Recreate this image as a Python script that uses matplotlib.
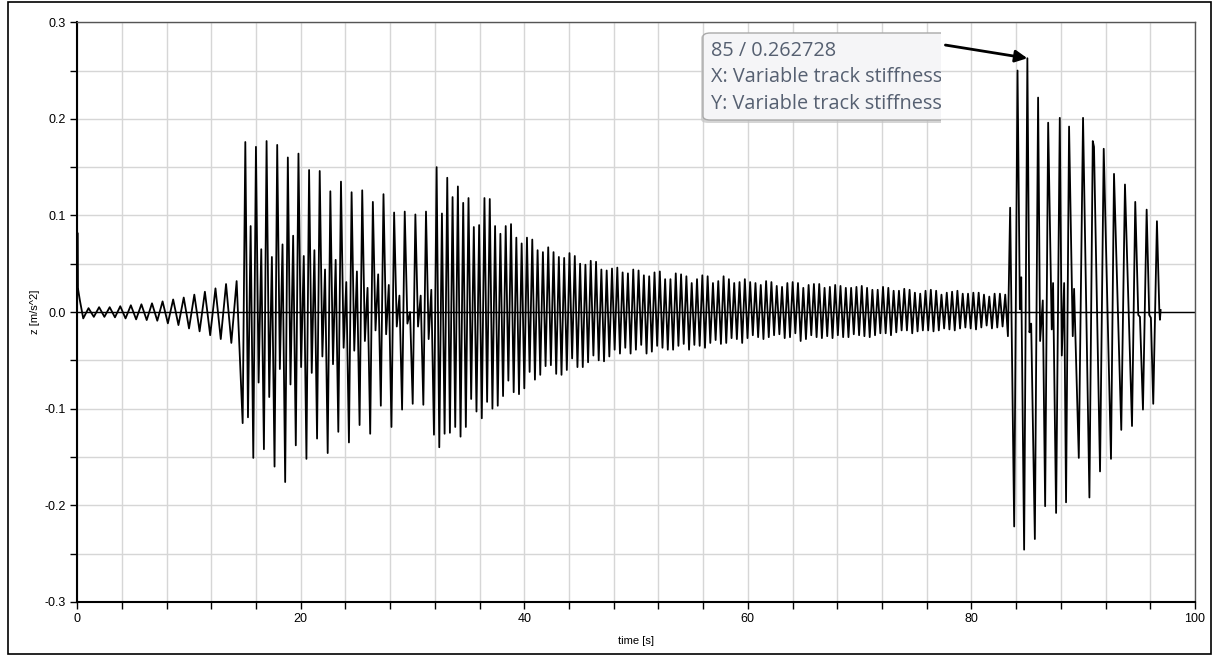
# Aceleração vertical z ao longo do tempo - rigidez variável da via

import numpy as np
import matplotlib.pyplot as plt
from matplotlib.patches import FancyBboxPatch, Rectangle
from matplotlib.transforms import Bbox

# pico inicial
t_inicio = [0.0, 0.03, 0.07, 0.25]
z_inicio = [0.0, 0.082, 0.025, 0.012]

# oscilação pequena crescente (vale, pico, vale, pico, ...) de 0.55 s a 14.27 s
z_oscil = [-0.0066, 0.004, -0.005, 0.005, -0.005, 0.005, -0.0055, 0.006,
           -0.0066, 0.007, -0.0076, 0.008, -0.0083, 0.009, -0.009, 0.011,
           -0.0117, 0.013, -0.0135, 0.015, -0.017, 0.018, -0.020, 0.021,
           -0.024, 0.0245, -0.028, 0.029, -0.032, 0.032]
t_oscil = (0.55, 14.27)

# primeira rajada (15 s a 32 s)
z_rajada = [-0.115, 0.176, -0.109, 0.089, -0.151, 0.171, -0.073, 0.065,
            -0.142, 0.177, -0.088, 0.057, -0.160, 0.173, -0.059, 0.070,
            -0.176, 0.160, -0.075, 0.079, -0.138, 0.164, -0.057, 0.058,
            -0.152, 0.147, -0.063, 0.064, -0.131, 0.146, -0.046, 0.044,
            -0.146, 0.125, -0.054, 0.054, -0.124, 0.135, -0.037, 0.031,
            -0.135, 0.124, -0.040, 0.042, -0.117, 0.126, -0.030, 0.025,
            -0.126, 0.114, -0.019, 0.039, -0.097, 0.122, -0.023, 0.028,
            -0.119, 0.103, -0.015, 0.017, -0.101, 0.104, -0.012, 0.000,
            -0.095, 0.101, -0.015, 0.017, -0.096, 0.104, -0.028, 0.023,
            -0.127]

# decaimento (32 s a 83 s): picos e vales de cada ciclo
picos_decai = [0.150, 0.102, 0.139, 0.119, 0.130, 0.113, 0.118, 0.088, 0.090,
               0.118, 0.117, 0.089, 0.081, 0.089, 0.091, 0.077, 0.071, 0.077,
               0.075, 0.064, 0.062, 0.067, 0.062, 0.057, 0.056, 0.061, 0.058,
               0.050, 0.049, 0.053, 0.052, 0.044, 0.043, 0.045, 0.046,
               0.041, 0.040, 0.044, 0.043, 0.038, 0.037, 0.041, 0.042, 0.034,
               0.034, 0.040, 0.039, 0.037, 0.030, 0.034, 0.038, 0.037, 0.030,
               0.032, 0.037, 0.034, 0.030, 0.031, 0.034, 0.031, 0.030, 0.028,
               0.032, 0.031, 0.027, 0.026, 0.030, 0.031, 0.030,
               0.025, 0.028, 0.029, 0.029, 0.025, 0.026, 0.028, 0.027, 0.025,
               0.025, 0.026, 0.027, 0.025, 0.023, 0.023, 0.026, 0.025, 0.022,
               0.022, 0.024, 0.023, 0.020, 0.019, 0.022, 0.023, 0.022, 0.018,
               0.020, 0.021, 0.022, 0.019, 0.019, 0.020, 0.020, 0.018, 0.016,
               0.019, 0.019, 0.018]
vales_decai = [-0.140, -0.126, -0.125, -0.119, -0.129, -0.119, -0.090, -0.103,
               -0.110, -0.093, -0.100, -0.097, -0.087, -0.071, -0.083, -0.085,
               -0.079, -0.062, -0.070, -0.065, -0.056, -0.055, -0.064, -0.065,
               -0.060, -0.048, -0.057, -0.057, -0.052, -0.045, -0.050, -0.051,
               -0.046, -0.039, -0.043,
               -0.037, -0.043, -0.039, -0.034, -0.043, -0.041, -0.035, -0.037,
               -0.039, -0.039, -0.035, -0.033, -0.039, -0.034, -0.035, -0.037,
               -0.032, -0.029, -0.033, -0.032, -0.027, -0.028, -0.032, -0.027,
               -0.024, -0.026, -0.028, -0.026, -0.024, -0.023, -0.027, -0.026,
               -0.022, -0.030,
               -0.028, -0.024, -0.026, -0.027, -0.025, -0.027, -0.024, -0.026,
               -0.026, -0.023, -0.024, -0.025, -0.026, -0.024, -0.022, -0.022,
               -0.024, -0.021, -0.019, -0.019, -0.022, -0.020, -0.019, -0.019,
               -0.020, -0.019, -0.017, -0.018, -0.019, -0.017, -0.016, -0.017,
               -0.018, -0.016, -0.014, -0.017, -0.016, -0.015]
t_rajada_decai = (14.81, 83.02)

# segunda rajada (83 s a 97 s)
t_final = [83.26, 83.46, 83.82, 84.12, 84.33, 84.45, 84.71, 85.0, 85.19,
           85.34, 85.67, 85.96, 86.14, 86.38, 86.59, 86.86, 87.18, 87.30,
           87.57, 87.90, 88.08, 88.29, 88.46, 88.73, 89.06, 89.18, 89.60,
           89.98, 90.55, 90.85, 90.96, 91.50, 91.83, 92.48, 92.75, 93.40,
           93.73, 94.36, 94.65, 94.92, 95.07, 95.34, 95.67, 95.90, 96.05,
           96.26, 96.59, 96.80, 96.86, 96.92]
z_final = [-0.025, 0.108, -0.222, 0.250, 0.003, 0.036, -0.246, 0.262728,
           -0.021, -0.012, -0.235, 0.222, -0.030, 0.012, -0.201, 0.196,
           -0.018, 0.030, -0.208, 0.201, -0.045, 0.030, -0.197, 0.192,
           -0.025, 0.024, -0.151, 0.201, -0.192, 0.177, 0.171, -0.165,
           0.169, -0.152, 0.143, -0.122, 0.132, -0.118, 0.114, -0.003,
           -0.005, -0.101, 0.106, -0.003, -0.006, -0.095, 0.094, 0.003,
           -0.008, 0.002]

# ponto marcado no tooltip
t_marca = 85
z_marca = 0.262728

# monta a série completa
z_decai = [v for par in zip(picos_decai, vales_decai) for v in par] + [picos_decai[-1]]
z_meio = z_rajada + z_decai

t = np.concatenate([t_inicio,
                    np.linspace(t_oscil[0], t_oscil[1], len(z_oscil)),
                    np.linspace(t_rajada_decai[0], t_rajada_decai[1], len(z_meio)),
                    t_final])
z = np.concatenate([z_inicio, z_oscil, z_meio, z_final])

plt.rcParams['font.family'] = ['Liberation Sans Narrow', 'Liberation Sans', 'DejaVu Sans']

fig = plt.figure(figsize=(12.14, 6.56), dpi=100)
ax = fig.add_axes([0.0635, 0.0826, 0.9209, 0.8835])

ax.plot(t, z, color='black', lw=1.3, zorder=3)
ax.axhline(0, color='black', lw=1.0, zorder=2)

ax.set_xlim(0, 100)
ax.set_ylim(-0.3, 0.3)
ax.set_xticks(np.arange(0, 101, 20))
ax.set_xticks(np.arange(0, 101, 4), minor=True)
ax.set_yticks(np.arange(-0.3, 0.31, 0.1))
ax.set_yticks(np.arange(-0.3, 0.31, 0.05), minor=True)
ax.set_yticklabels([f"{v:.1f}" for v in np.arange(-0.3, 0.31, 0.1)])
ax.grid(True, which='both', color='#d6d6d6', lw=1.0, zorder=0)
ax.tick_params(which='both', direction='out', length=5, width=1, labelsize=9, pad=3)

for lado in ['left', 'bottom']:
    ax.spines[lado].set_linewidth(1.5)
for lado in ['top', 'right']:
    ax.spines[lado].set_color('#555555')
    ax.spines[lado].set_linewidth(1.0)

ax.set_xlabel('time [s]', fontsize=8, labelpad=8)
ax.set_ylabel('z [m/s^2]', fontsize=8, labelpad=3)

# seta do tooltip até o pico
ax.annotate('', xy=(t_marca, z_marca), xytext=(-59, 9.5), textcoords='offset points',
            arrowprops=dict(arrowstyle='-|>', color='black', lw=2, mutation_scale=18,
                            shrinkA=0, shrinkB=0), zorder=5)

# tooltip, cortado na borda direita
W, H = 1214, 656
corte = Bbox.from_extents(0, 0, 941, H)
sombra = FancyBboxPatch((701 / W, 1 - 123 / H), 280 / W, 89 / H,
                        boxstyle='round,pad=0,rounding_size=0.006',
                        transform=fig.transFigure, facecolor='#c4c4c4',
                        edgecolor='none', alpha=0.7, zorder=10)
caixa = FancyBboxPatch((703 / W, 1 - 120 / H), 280 / W, 87 / H,
                       boxstyle='round,pad=0,rounding_size=0.006',
                       transform=fig.transFigure, facecolor='#f5f5f7',
                       edgecolor='#a9a9a9', lw=1, zorder=11)
for p in (sombra, caixa):
    p.set_clip_box(corte)
    fig.patches.append(p)

linhas = [f"{t_marca} / {z_marca}", "X: Variable track stiffness", "Y: Variable track stiffness"]
for i, txt in enumerate(linhas):
    tx = fig.text(711 / W, 1 - (56 + 26.5 * i) / H, txt, fontsize=14.3,
                  family=['Open Sans', 'DejaVu Sans'], color='#566071',
                  va='baseline', ha='left', zorder=13)
    tx.set_clip_box(corte)

# moldura da figura
fig.patches.append(Rectangle((8 / W, 2 / H), 1203 / W, 652 / H, transform=fig.transFigure,
                             facecolor='none', edgecolor='black', lw=1.2, zorder=20))

plt.savefig('out.png', dpi=100)
